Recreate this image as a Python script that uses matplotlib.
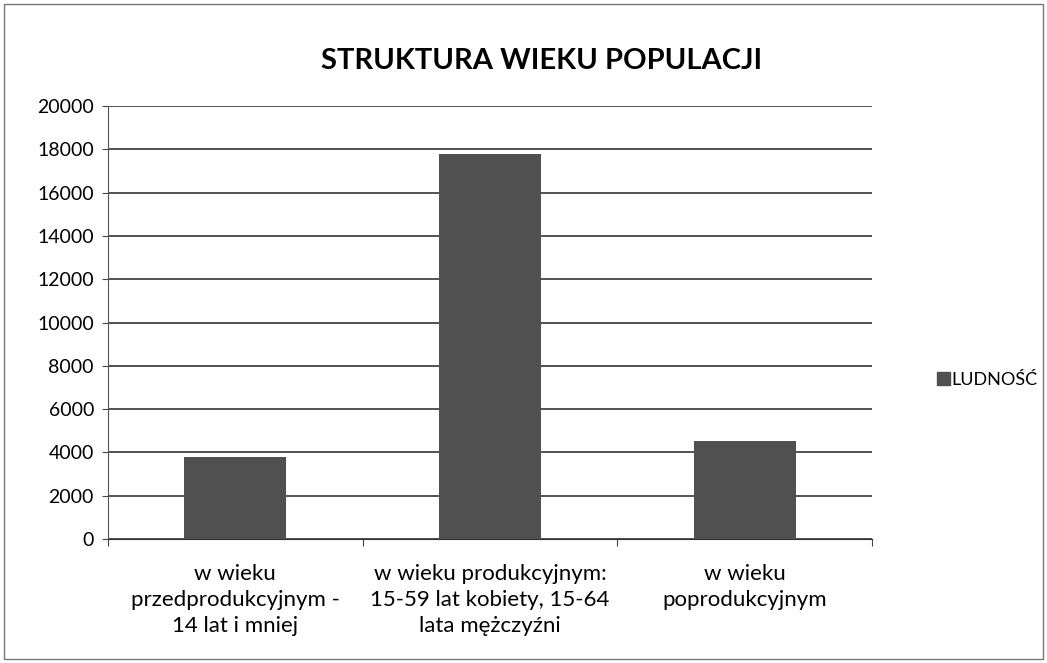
import matplotlib.pyplot as plt
from matplotlib.patches import Patch, Rectangle

categories = ["w wieku\nprzedprodukcyjnym -\n14 lat i mniej",
              "w wieku produkcyjnym:\n15-59 lat kobiety, 15-64\nlata mężczyźni",
              "w wieku\npoprodukcyjnym"]
values = [3800, 17800, 4550]
yticks = list(range(0, 20001, 2000))

plt.rcParams['font.family'] = ['Lato', 'DejaVu Sans']

fig = plt.figure(figsize=(10.47, 6.63), dpi=100)
ax = fig.add_axes([0.103, 0.187, 0.730, 0.653])

x = list(range(len(categories)))
ax.bar(x, values, width=0.4, color="#505050", zorder=3)

ax.set_xlim(-0.5, 2.5)
ax.set_ylim(0, 20000)
ax.set_yticks(yticks)
ax.set_yticklabels([str(v) for v in yticks], fontsize=14)
ax.yaxis.grid(True, color="#222222", linewidth=1.1, zorder=0)
ax.set_axisbelow(True)

ax.set_xticks([-0.5, 0.5, 1.5, 2.5])
ax.set_xticklabels([])
ax.set_xticks(x, minor=True)
ax.set_xticklabels(categories, minor=True, fontsize=16, linespacing=1.38)
ax.tick_params(axis="x", which="minor", length=0, pad=18)
ax.tick_params(axis="x", which="major", length=5, direction="out", color="#444444")
ax.tick_params(axis="y", length=4, color="#444444", pad=6)

for s in ["top", "right"]:
    ax.spines[s].set_visible(False)
ax.spines["left"].set_color("#555555")
ax.spines["bottom"].set_color("#333333")

fig.text(0.517, 0.908, "STRUKTURA WIEKU POPULACJI", ha="center", va="center",
         fontsize=21, fontweight="bold")

fig.legend(handles=[Patch(color="#505050", label="LUDNOŚĆ")],
           loc="center left", bbox_to_anchor=(0.895, 0.427), frameon=False,
           fontsize=13, handlelength=0.7, handleheight=0.7, handletextpad=0.1,
           borderaxespad=0, borderpad=0)

fig.patches.append(Rectangle((0.004, 0.006), 0.992, 0.988, transform=fig.transFigure,
                             fill=False, edgecolor="#777777", linewidth=1))

fig.savefig("out.png", dpi=100)
